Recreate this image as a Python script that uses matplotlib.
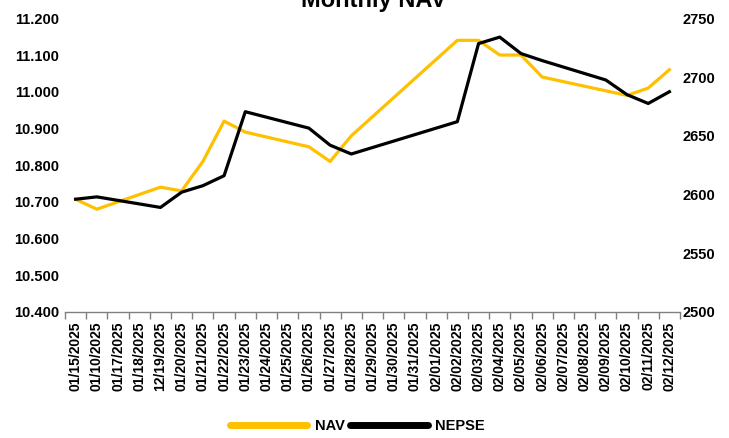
import numpy as np
import matplotlib
matplotlib.use("Agg")
import matplotlib.pyplot as plt
from matplotlib.lines import Line2D

plt.rcParams['font.family'] = ['Liberation Sans', 'DejaVu Sans']
plt.rcParams['font.weight'] = 'bold'

# category labels as printed on the axis
dates = ["01/15/2025", "01/10/2025", "01/17/2025", "01/18/2025", "12/19/2025",
         "01/20/2025", "01/21/2025", "01/22/2025", "01/23/2025", "01/24/2025",
         "01/25/2025", "01/26/2025", "01/27/2025", "01/28/2025", "01/29/2025",
         "01/30/2025", "01/31/2025", "02/01/2025", "02/02/2025", "02/03/2025",
         "02/04/2025", "02/05/2025", "02/06/2025", "02/07/2025", "02/08/2025",
         "02/09/2025", "02/10/2025", "02/11/2025", "02/12/2025"]

nan = np.nan
# NAV (left axis), blanks are days with no value
nav = [10.707, 10.680, nan, nan, 10.740, 10.730, 10.810, 10.920, 10.890, nan,
       nan, 10.850, 10.810, 10.880, nan, nan, nan, nan, 11.140, 11.140,
       11.100, 11.100, 11.040, nan, nan, nan, 10.990, 11.010, 11.060]

# NEPSE index (right axis)
nepse = [2596, 2598, nan, nan, 2589, 2602, 2607.5, 2616, 2670.5, nan,
         nan, 2656.5, 2642, 2634.5, nan, nan, nan, nan, 2662, 2728.5,
         2734, 2720, 2714, nan, nan, 2697.5, 2685, 2677.5, 2687.5]

nav_color = "#FFC000"
nepse_color = "#000000"

fig = plt.figure(figsize=(7.29, 4.38), dpi=100)
ax = fig.add_axes([0.0892, 0.2877, 0.8436, 0.6705])
ax2 = ax.twinx()

x = np.arange(len(dates))
nav_arr = np.array(nav, dtype=float)
nepse_arr = np.array(nepse, dtype=float)
m1 = ~np.isnan(nav_arr)
m2 = ~np.isnan(nepse_arr)

# skip blank days, line joins the neighbours like excel does
ax.plot(x[m1], nav_arr[m1], color=nav_color, linewidth=2.3, zorder=3)
ax2.plot(x[m2], nepse_arr[m2], color=nepse_color, linewidth=2.3, zorder=3)

ax.set_xlim(-0.5, len(dates) - 0.5)
ax.set_ylim(10.4, 11.2)
ax2.set_ylim(2500, 2750)
ax.set_yticks(np.arange(10.4, 11.21, 0.1))
ax.set_yticklabels([f"{v:.3f}" for v in np.arange(10.4, 11.21, 0.1)])
ax2.set_yticks(np.arange(2500, 2751, 50))

ax.set_xticks(x)
ax.set_xticklabels(dates, rotation=90, fontsize=10, fontweight='bold')
ax.set_xticks(np.arange(-0.5, len(dates), 1), minor=True)
ax.tick_params(axis='x', which='major', length=0, pad=7)
ax.tick_params(axis='x', which='minor', length=5, color='#808080', width=1)

ax.tick_params(axis='y', length=0, pad=4, labelsize=10.5)
ax2.tick_params(axis='y', length=0, pad=2, labelsize=10.5)

for a in (ax, ax2):
    for s in ('top', 'left', 'right'):
        a.spines[s].set_visible(False)
ax2.spines['bottom'].set_visible(False)
ax.spines['bottom'].set_color('#808080')
ax.spines['bottom'].set_linewidth(1)

fig.text(0.512, 0.984, "Monthly NAV", ha='center', va='baseline',
         fontsize=17, fontweight='bold')

handles = [Line2D([], [], color=nav_color, linewidth=5, solid_capstyle='round'),
           Line2D([], [], color=nepse_color, linewidth=5, solid_capstyle='round')]
fig.legend(handles, ["NAV", "NEPSE"], loc='lower center', ncol=2,
           bbox_to_anchor=(0.49, -0.012), frameon=False,
           handlelength=5.3, handletextpad=0.5, columnspacing=0.4,
           borderpad=0.2, prop={'weight': 'bold', 'size': 10.5})

fig.savefig("out.png", dpi=100)
